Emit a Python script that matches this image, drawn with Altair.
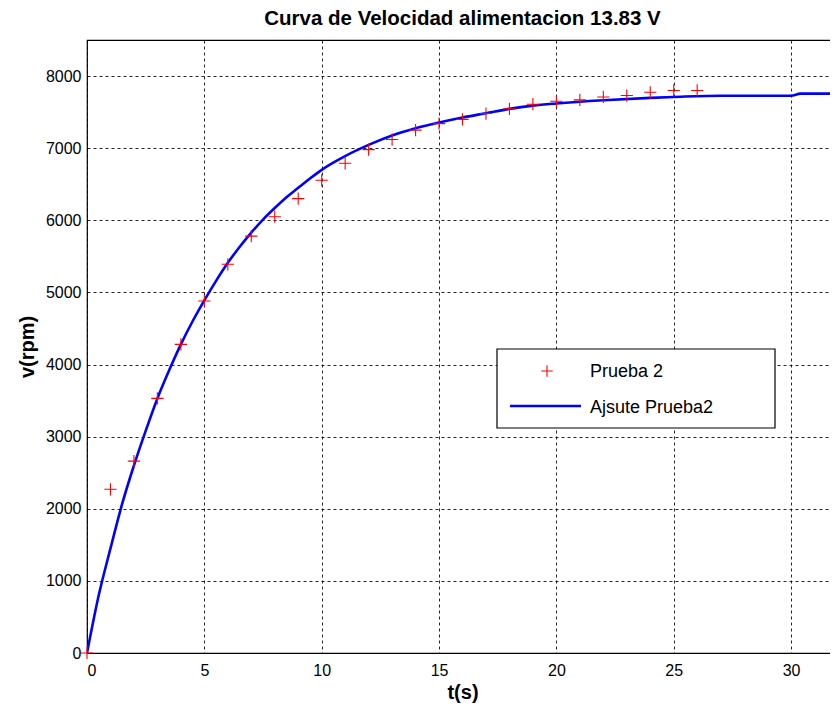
import altair as alt
import pandas as pd

# ---- data ----
test_t = [0, 1, 2, 3, 4, 5, 6, 7, 8, 9, 10, 11, 12, 13, 14, 15, 16, 17, 18, 19, 20, 21, 22, 23, 24, 25, 26]
test_v = [0, 2270, 2660, 3530, 4280, 4880, 5390, 5780, 6050, 6300, 6555, 6790, 6980, 7120, 7250,
          7340, 7400, 7480, 7545, 7610, 7650, 7670, 7710, 7730, 7775, 7800, 7800]

fit_t = [0, 0.5, 1.0, 1.5, 2.0, 2.5, 3.0, 3.5, 4.0, 4.5, 5.0, 5.5, 6.0, 6.5, 7.0, 7.5, 8.0, 8.5,
         9.0, 9.5, 10.0, 11.0, 12.0, 13.0, 14.0, 15.0, 16.0, 17.0, 18.0, 19.0, 20.0, 22.0, 24.0,
         25.0, 27.0, 30.0, 30.4, 32.0]
fit_v = [0, 800, 1450, 2070, 2600, 3080, 3530, 3920, 4280, 4600, 4890, 5160, 5410, 5630, 5830,
         6010, 6170, 6320, 6450, 6580, 6700, 6890, 7045, 7175, 7275, 7355, 7425, 7485, 7545,
         7590, 7620, 7665, 7698, 7710, 7728, 7728, 7756, 7756]

series_names = ["Prueba 2", "Ajsute Prueba2"]
title_text = "Curva de Velocidad alimentacion 13.83 V"
x_title = "t(s)"
y_title = "v(rpm)"
x_ticks = [0, 5, 10, 15, 20, 25, 30]
y_ticks = [0, 1000, 2000, 3000, 4000, 5000, 6000, 7000, 8000]

test_df = pd.DataFrame({"t": test_t, "v": test_v})
fit_df = pd.DataFrame({"t": fit_t, "v": fit_v})

FONT = "Liberation Sans"
W, H = 751, 613

xscale = alt.Scale(domain=[0, 32], nice=False, zero=False)
yscale = alt.Scale(domain=[0, 8500], nice=False, zero=False)

xaxis = alt.Axis(values=x_ticks, title=x_title, grid=True, ticks=False, domain=False,
                 labelFontSize=16, labelFont=FONT, labelColor="black", labelPadding=9,
                 titleFontSize=20, titleFont=FONT, titleFontWeight="bold", titleColor="black",
                 titlePadding=4,
                 gridColor="black", gridDash=[3, 3], gridOpacity=0.85, gridWidth=1)
yaxis = alt.Axis(values=y_ticks, title=y_title, grid=True, ticks=False, domain=False, format="d",
                 labelFontSize=16, labelFont=FONT, labelColor="black", labelPadding=6,
                 titleFontSize=20, titleFont=FONT, titleFontWeight="bold", titleColor="black",
                 titlePadding=8,
                 gridColor="black", gridDash=[3, 3], gridOpacity=0.85, gridWidth=1)

line = alt.Chart(fit_df).mark_line(color="#0000FF", strokeWidth=2.6, clip=True,
                                   interpolate="monotone").encode(
    x=alt.X("t:Q", scale=xscale, axis=xaxis),
    y=alt.Y("v:Q", scale=yscale, axis=yaxis),
)

plus_path = "M-1,0L1,0M0,-1L0,1"
points = alt.Chart(test_df).mark_point(shape=plus_path, size=150, color="red", strokeWidth=1.1,
                                        filled=False, opacity=1).encode(
    x=alt.X("t:Q", scale=xscale),
    y=alt.Y("v:Q", scale=yscale),
)

one = alt.Data(values=[{"a": 1}])
leg_box = alt.Chart(one).mark_rect(fill="white", stroke="black", strokeWidth=1.2).encode(
    x=alt.value(410), x2=alt.value(688), y=alt.value(309), y2=alt.value(388))
leg_pt = alt.Chart(one).mark_point(shape=plus_path, size=130, color="red", strokeWidth=1.1,
                                   filled=False, opacity=1).encode(
    x=alt.value(460), y=alt.value(331))
leg_line = alt.Chart(one).mark_rule(color="#0000FF", strokeWidth=2.6).encode(
    x=alt.value(423), x2=alt.value(494), y=alt.value(366))
leg_txt1 = alt.Chart(one).mark_text(text=series_names[0], align="left", baseline="middle",
                                    font=FONT, fontSize=18, color="black").encode(
    x=alt.value(503), y=alt.value(332))
leg_txt2 = alt.Chart(one).mark_text(text=series_names[1], align="left", baseline="middle",
                                    font=FONT, fontSize=18, color="black").encode(
    x=alt.value(503), y=alt.value(368))

chart = alt.layer(line, points, leg_box, leg_line, leg_pt, leg_txt1, leg_txt2).properties(
    width=W, height=H,
    title=alt.TitleParams(title_text, font=FONT, fontSize=20.5, fontWeight="bold", color="black",
                          anchor="middle", offset=11),
    autosize=alt.AutoSizeParams(type="none"),
    padding={"left": 79, "top": 32, "right": -8, "bottom": 53},
    background="white",
).configure_view(stroke="black", strokeWidth=1.2)

chart.save("out.html", embed_options={"renderer": "svg", "actions": False})
